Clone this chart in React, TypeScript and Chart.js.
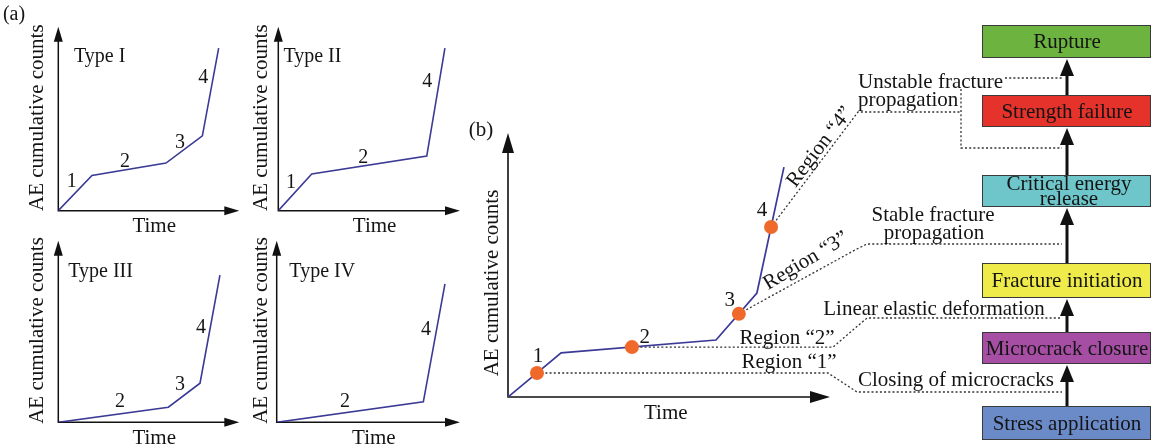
import React, { useEffect, useRef } from "react";
import { Chart, registerables } from "chart.js";

Chart.register(...registerables);

const W = 1152;
const H = 448;
const FONT = "'Liberation Serif', 'Times New Roman', serif";
const CURVE = "#3b3a96";
const MARKER = "#ef6a2a";
const DOT = "#333333";
const INK = "#141414";

// ---------- Panel (a) data (axis units 0..100 = origin..arrow tip) ----------
const typeIX = [0, 18.6, 59.5, 79.6, 88.6];
const typeIY = [0, 19.2, 25.9, 40.7, 88.3];
const typeIIX = [0, 18.4, 81.7, 91.7];
const typeIIY = [0, 19.9, 29.7, 88.3];
const typeIIIX = [0, 60.8, 78.3, 89.3];
const typeIIIY = [0, 8.3, 21.5, 81.1];
const typeIVX = [0, 80.0, 91.8];
const typeIVY = [0, 11.3, 76.2];

const typeTitles = ["Type I", "Type II", "Type III", "Type IV"];
const stageTextI = ["1", "2", "3", "4"];
const stageXI = [7.4, 36.8, 67.2, 80.1];
const stageYI = [15.8, 26.6, 37.0, 72.5];
const stageTextII = ["1", "2", "4"];
const stageXII = [7.0, 46.8, 82.0];
const stageYII = [15.2, 29.0, 70.1];
const stageTextIII = ["2", "3", "4"];
const stageXIII = [34.1, 67.2, 78.8];
const stageYIII = [11.3, 20.5, 51.8];
const stageTextIV = ["2", "4"];
const stageXIV = [37.3, 81.4];
const stageYIV = [11.3, 50.7];

// ---------- Panel (b) data ----------
const curveBX = [0, 16.5, 64.6, 77.3, 85.7];
const curveBY = [0, 16.7, 21.6, 39.4, 87.1];
const markerBX = [9.0, 38.5, 71.7, 81.7];
const markerBY = [9.1, 18.9, 31.5, 64.4];
const markerText = ["1", "2", "3", "4"];
const markerTextX = [9.3, 42.5, 68.9, 78.9];
const markerTextY = [15.2, 22.7, 36.7, 70.8];

const xTitle = "Time";
const yTitle = "AE cumulative counts";

// ---------- Flowchart text ----------
const flowLabels = [
  "Stress application",
  "Microcrack closure",
  "Fracture initiation",
  "Critical energy|release",
  "Strength failure",
  "Rupture",
];
const flowColors = ["#6b8bc8", "#a64ea3", "#efeb4a", "#6ec6ca", "#e5322b", "#6db33f"];
const regionLabels = ["Region \u201c1\u201d", "Region \u201c2\u201d", "Region \u201c3\u201d", "Region \u201c4\u201d"];
const mechanismLabels = [
  "Closing of microcracks",
  "Linear elastic deformation",
  "Stable fracture|propagation",
  "Unstable fracture|propagation",
];

// ---------- layout (pixels) ----------
type Frame = { ox: number; oy: number; tx: number; ty: number };
const frames: Frame[] = [
  { ox: 58.3, oy: 210.7, tx: 239.3, ty: 26.7 },
  { ox: 278.3, oy: 210.7, tx: 460, ty: 26.7 },
  { ox: 58.3, oy: 422.3, tx: 239.3, ty: 240.7 },
  { ox: 276.7, oy: 422.3, tx: 460, ty: 240.7 },
];
const yTitleOffsets = [-21, -17, -21, -15.5];
const frameB: Frame = { ox: 508, oy: 397, tx: 830, ty: 133 };

const BOX_L = 982;
const BOX_R = 1151;
const boxTops = [406, 332, 263, 175, 95, 25];
const boxBottoms = [440, 364, 298, 207, 127, 58];
const ARROW_X = 1067;

function setFont(ctx: CanvasRenderingContext2D, size = 21) {
  ctx.font = `${size}px ${FONT}`;
  ctx.fillStyle = INK;
}

function drawAxes(ctx: CanvasRenderingContext2D, a: any, headLen: number, headHalf: number, lw: number) {
  ctx.save();
  ctx.strokeStyle = "#111";
  ctx.fillStyle = "#111";
  ctx.lineWidth = lw;
  ctx.beginPath();
  ctx.moveTo(a.left, a.top + headLen - 2);
  ctx.lineTo(a.left, a.bottom);
  ctx.lineTo(a.right - headLen + 2, a.bottom);
  ctx.stroke();
  ctx.beginPath();
  ctx.moveTo(a.left, a.top);
  ctx.lineTo(a.left - headHalf, a.top + headLen);
  ctx.lineTo(a.left + headHalf, a.top + headLen);
  ctx.closePath();
  ctx.fill();
  ctx.beginPath();
  ctx.moveTo(a.right, a.bottom);
  ctx.lineTo(a.right - headLen, a.bottom - headHalf);
  ctx.lineTo(a.right - headLen, a.bottom + headHalf);
  ctx.closePath();
  ctx.fill();
  ctx.restore();
}

function drawAxisTitles(ctx: CanvasRenderingContext2D, a: any, yOff: number, xFrac: number, yMid: number) {
  ctx.save();
  setFont(ctx, 21);
  ctx.textAlign = "center";
  ctx.textBaseline = "middle";
  ctx.fillText(xTitle, a.left + xFrac * (a.right - a.left), a.bottom + 16);
  ctx.translate(a.left + yOff, yMid);
  ctx.rotate(-Math.PI / 2);
  ctx.fillText(yTitle, 0, 0);
  ctx.restore();
}

function baseOptions(f: Frame): any {
  return {
    responsive: false,
    animation: false,
    devicePixelRatio: 1,
    events: [],
    layout: { padding: { left: f.ox, top: f.ty, right: W - f.tx, bottom: H - f.oy } },
    scales: {
      x: { type: "linear", min: 0, max: 100, display: false },
      y: { type: "linear", min: 0, max: 100, display: false },
    },
    plugins: { legend: { display: false }, tooltip: { enabled: false }, title: { display: false } },
  };
}

type PanelSpec = {
  xs: number[];
  ys: number[];
  title: string;
  titleX: number;
  titleY: number;
  st: string[];
  sx: number[];
  sy: number[];
};

const panels: PanelSpec[] = [
  { xs: typeIX, ys: typeIY, title: typeTitles[0], titleX: 8.7, titleY: 83.5, st: stageTextI, sx: stageXI, sy: stageYI },
  { xs: typeIIX, ys: typeIIY, title: typeTitles[1], titleX: 2.8, titleY: 83.7, st: stageTextII, sx: stageXII, sy: stageYII },
  { xs: typeIIIX, ys: typeIIIY, title: typeTitles[2], titleX: 5.5, titleY: 82.9, st: stageTextIII, sx: stageXIII, sy: stageYIII },
  { xs: typeIVX, ys: typeIVY, title: typeTitles[3], titleX: 6.9, titleY: 82.9, st: stageTextIV, sx: stageXIV, sy: stageYIV },
];

function makePanel(canvas: HTMLCanvasElement, idx: number) {
  const p = panels[idx];
  const f = frames[idx];
  const plugin = {
    id: "panelDeco" + idx,
    beforeDatasetsDraw(chart: any) {
      drawAxes(chart.ctx, chart.chartArea, 15, 4.5, 1.5);
    },
    afterDraw(chart: any) {
      const ctx = chart.ctx;
      const a = chart.chartArea;
      const xs = chart.scales.x;
      const ys = chart.scales.y;
      drawAxisTitles(ctx, a, yTitleOffsets[idx], 0.53, (a.top + a.bottom) / 2 - 1);
      ctx.save();
      setFont(ctx, 20);
      ctx.textBaseline = "middle";
      ctx.textAlign = "left";
      ctx.fillText(p.title, xs.getPixelForValue(p.titleX), ys.getPixelForValue(p.titleY));
      ctx.textAlign = "center";
      p.st.forEach((t, i) => ctx.fillText(t, xs.getPixelForValue(p.sx[i]), ys.getPixelForValue(p.sy[i])));
      if (idx === 0) {
        setFont(ctx, 20);
        ctx.fillText("(a)", 14, 15);
      }
      ctx.restore();
    },
  };
  return new Chart(canvas, {
    type: "line",
    data: {
      datasets: [
        {
          data: p.xs.map((x, i) => ({ x, y: p.ys[i] })),
          borderColor: CURVE,
          borderWidth: 1.6,
          pointRadius: 0,
          tension: 0,
          fill: false,
        },
      ],
    },
    options: baseOptions(f),
    plugins: [plugin],
  } as any);
}

function dotted(ctx: CanvasRenderingContext2D, pts: number[][]) {
  ctx.beginPath();
  ctx.moveTo(pts[0][0], pts[0][1]);
  for (let i = 1; i < pts.length; i++) ctx.lineTo(pts[i][0], pts[i][1]);
  ctx.stroke();
}

function makePanelB(canvas: HTMLCanvasElement) {
  const plugin = {
    id: "panelB",
    beforeDatasetsDraw(chart: any) {
      const ctx = chart.ctx;
      drawAxes(ctx, chart.chartArea, 20, 6, 1.6);
      const xs = chart.scales.x;
      const ys = chart.scales.y;
      const m = markerBX.map((x, i) => [xs.getPixelForValue(x), ys.getPixelForValue(markerBY[i])]);
      ctx.save();
      ctx.strokeStyle = DOT;
      ctx.lineWidth = 1.3;
      ctx.setLineDash([2, 2.2]);
      dotted(ctx, [m[0], [828, m[0][1]], [857, 392], [1062, 392]]);
      dotted(ctx, [m[1], [833, m[1][1]], [867, 318], [1062, 318]]);
      dotted(ctx, [m[2], [855, 250], [867, 244], [1062, 244]]);
      dotted(ctx, [m[3], [858, 112], [961, 112]]);
      dotted(ctx, [[961, 89], [961, 148], [1062, 148]]);
      dotted(ctx, [[1005, 78], [1062, 78]]);
      ctx.restore();
    },
    afterDraw(chart: any) {
      const ctx = chart.ctx;
      const a = chart.chartArea;
      const xs = chart.scales.x;
      const ys = chart.scales.y;
      drawAxisTitles(ctx, a, -15.5, 0.49, 283);
      ctx.save();
      setFont(ctx, 21);
      ctx.textAlign = "center";
      ctx.textBaseline = "middle";
      markerText.forEach((t, i) => ctx.fillText(t, xs.getPixelForValue(markerTextX[i]), ys.getPixelForValue(markerTextY[i])));
      ctx.fillText("(b)", 481, 130);

      // region labels
      ctx.fillText(regionLabels[0], 789, 362);
      ctx.fillText(regionLabels[1], 787, 338);
      ctx.save();
      ctx.translate(806, 261);
      ctx.rotate(-0.54);
      ctx.fillText(regionLabels[2], 0, 0);
      ctx.restore();
      ctx.save();
      ctx.translate(820, 147);
      ctx.rotate(-0.92);
      ctx.fillText(regionLabels[3], 0, 0);
      ctx.restore();

      // mechanism labels
      ctx.fillText(mechanismLabels[0], 956, 380);
      ctx.fillText(mechanismLabels[1], 934, 309);
      const st = mechanismLabels[2].split("|");
      ctx.fillText(st[0], 933, 215);
      ctx.fillText(st[1], 934, 233);
      const un = mechanismLabels[3].split("|");
      ctx.textAlign = "left";
      ctx.fillText(un[0], 858, 82);
      ctx.fillText(un[1], 858, 100);

      // boxes
      flowLabels.forEach((lab, i) => {
        const t = boxTops[i];
        const b = boxBottoms[i];
        ctx.fillStyle = flowColors[i];
        ctx.fillRect(BOX_L, t, BOX_R - BOX_L, b - t);
        ctx.strokeStyle = "#3a3a3a";
        ctx.lineWidth = 1;
        ctx.setLineDash([]);
        ctx.strokeRect(BOX_L + 0.5, t + 0.5, BOX_R - BOX_L - 1, b - t - 1);
        setFont(ctx, 21);
        ctx.textAlign = "center";
        ctx.textBaseline = "middle";
        const parts = lab.split("|");
        const cx = 1067;
        if (parts.length === 1) {
          ctx.fillText(parts[0], cx, (t + b) / 2 + 1);
        } else {
          ctx.fillText(parts[0], cx + 2, t + 9);
          ctx.fillText(parts[1], cx + 2, t + 24);
        }
      });

      // arrows
      ctx.fillStyle = "#111";
      ctx.strokeStyle = "#111";
      for (let i = 0; i < boxTops.length - 1; i++) {
        const from = boxTops[i];
        const to = boxBottoms[i + 1];
        ctx.lineWidth = 3;
        ctx.beginPath();
        ctx.moveTo(ARROW_X, from);
        ctx.lineTo(ARROW_X, to + 12);
        ctx.stroke();
        ctx.beginPath();
        ctx.moveTo(ARROW_X, to + 1);
        ctx.lineTo(ARROW_X - 7, to + 18);
        ctx.lineTo(ARROW_X + 7, to + 18);
        ctx.closePath();
        ctx.fill();
      }
      ctx.restore();
    },
  };
  return new Chart(canvas, {
    type: "line",
    data: {
      datasets: [
        {
          data: markerBX.map((x, i) => ({ x, y: markerBY[i] })),
          showLine: false,
          pointRadius: 7,
          pointBackgroundColor: MARKER,
          pointBorderColor: MARKER,
          pointBorderWidth: 0,
          borderColor: MARKER,
          order: 0,
        },
        {
          data: curveBX.map((x, i) => ({ x, y: curveBY[i] })),
          borderColor: CURVE,
          borderWidth: 1.7,
          pointRadius: 0,
          tension: 0,
          fill: false,
          order: 1,
        },
      ],
    },
    options: baseOptions(frameB),
    plugins: [plugin],
  } as any);
}

export default function App() {
  const r0 = useRef<HTMLCanvasElement>(null);
  const r1 = useRef<HTMLCanvasElement>(null);
  const r2 = useRef<HTMLCanvasElement>(null);
  const r3 = useRef<HTMLCanvasElement>(null);
  const rb = useRef<HTMLCanvasElement>(null);

  useEffect(() => {
    const charts: Chart[] = [];
    [r0, r1, r2, r3].forEach((r, i) => {
      if (r.current) charts.push(makePanel(r.current, i));
    });
    if (rb.current) charts.push(makePanelB(rb.current));
    return () => charts.forEach((c) => c.destroy());
  }, []);

  const cs: React.CSSProperties = { position: "absolute", left: 0, top: 0, width: W, height: H };
  return (
    <div style={{ position: "fixed", left: 0, top: 0, width: W, height: H, background: "#fff", overflow: "hidden" }}>
      <canvas ref={r0} width={W} height={H} style={cs} />
      <canvas ref={r1} width={W} height={H} style={cs} />
      <canvas ref={r2} width={W} height={H} style={cs} />
      <canvas ref={r3} width={W} height={H} style={cs} />
      <canvas ref={rb} width={W} height={H} style={cs} />
    </div>
  );
}
